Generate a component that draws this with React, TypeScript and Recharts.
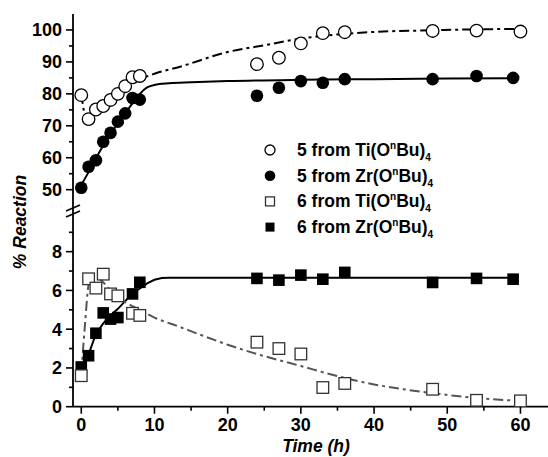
import React from "react";
import { ComposedChart, Line, Scatter, XAxis, YAxis } from "recharts";

// measured points: compound 5 (upper panel)
const tiTopX = [0, 1, 2, 3, 4, 5, 6, 7, 8, 24, 27, 30, 33, 36, 48, 54, 60];
const tiTopY = [79.6, 72.1, 75.1, 76.2, 78.1, 80.0, 82.4, 85.2, 85.6, 89.3, 91.3, 95.8, 99.0, 99.3, 99.7, 99.8, 99.5];
const zrTopX = [0, 1, 2, 3, 4, 5, 6, 7, 8, 24, 27, 30, 33, 36, 48, 54, 59];
const zrTopY = [50.6, 57.2, 59.2, 65.0, 67.8, 71.3, 73.9, 78.7, 78.2, 79.4, 81.9, 84.0, 83.5, 84.6, 84.6, 85.6, 85.0];

// measured points: compound 6 (lower panel)
const tiBotX = [0, 1, 2, 3, 4, 5, 7, 8, 24, 27, 30, 33, 36, 48, 54, 60];
const tiBotY = [1.6, 6.6, 6.12, 6.84, 5.82, 5.72, 4.82, 4.71, 3.33, 3.0, 2.72, 0.99, 1.2, 0.9, 0.33, 0.3];
const zrBotX = [0, 1, 2, 3, 4, 5, 7, 8, 24, 27, 30, 33, 36, 48, 54, 59];
const zrBotY = [2.05, 2.63, 3.79, 4.84, 4.52, 4.6, 5.82, 6.42, 6.62, 6.53, 6.79, 6.58, 6.93, 6.41, 6.62, 6.58];

// fitted curves
const tiTopFitX = [0, 0.7, 1.5, 2, 3, 4, 5, 6, 7, 8, 10, 13.5, 20, 25, 30, 35, 40, 48, 54, 60];
const tiTopFitY = [80, 72.3, 73.8, 75, 76.8, 78.5, 80.2, 81.8, 83.2, 84.5, 86.3, 88.5, 93.1, 95.2, 97.3, 98.6, 99.4, 99.9, 100.2, 100.3];
const zrTopFitX = [0, 1, 2, 3, 4, 5, 6, 7, 8, 9, 10, 12, 15, 20, 30, 40, 50, 59];
const zrTopFitY = [51.5, 55.5, 59.8, 63.8, 67.5, 70.8, 74, 77, 80, 82, 82.8, 83.3, 83.6, 84, 84.4, 84.6, 84.8, 84.9];
const tiBotFitX = [0, 0.5, 1, 1.5, 2.5, 4, 5, 6, 8, 10, 13.3, 16, 20, 24, 27, 30, 33, 36, 40, 44, 48, 54, 60];
const tiBotFitY = [1.7, 4.2, 6.3, 6.75, 6.6, 6.0, 5.65, 5.4, 5.0, 4.6, 4.14, 3.75, 3.2, 2.72, 2.4, 2.1, 1.78, 1.48, 1.15, 0.9, 0.7, 0.45, 0.3];
const zrBotFitX = [0, 1, 2, 3, 4, 5, 6, 7, 8, 9, 10, 11, 12, 20, 30, 40, 50, 59];
const zrBotFitY = [1.95, 2.7, 3.75, 4.3, 4.71, 5.05, 5.45, 5.85, 6.1, 6.36, 6.55, 6.64, 6.66, 6.66, 6.66, 6.66, 6.66, 6.66];

const xTicks = [0, 5, 10, 15, 20, 25, 30, 35, 40, 45, 50, 55, 60];
const topTicks = [50, 55, 60, 65, 70, 75, 80, 85, 90, 95, 100];
const botTicks = [0, 1, 2, 3, 4, 5, 6, 7, 8, 9];

const legendNames = ["5 from Ti(O", "5 from Zr(O", "6 from Ti(O", "6 from Zr(O"];

const pts = (xs: number[], ys: number[]) => xs.map((x, i) => ({ x, y: ys[i] }));

const FONT = '"Liberation Sans", Arial, sans-serif';
// the plot runs past the right edge of the picture (cropped frame)
const CW = 552;
const X_DOMAIN = [-1.13, 64.31];
const W = 548;
const AXW = 73;

const YTick = (props: any) => {
  const { x, y, payload, step } = props;
  const major = payload.value % step === 0;
  return (
    <g>
      <line x1={x} x2={x - (major ? 7 : 4)} y1={y} y2={y} stroke="#000" strokeWidth={1.6} />
      {major && (
        <text x={x - 11} y={y} dy="0.36em" textAnchor="end" fontSize={18} fontWeight="bold" fontFamily={FONT} fill="#000">
          {payload.value}
        </text>
      )}
    </g>
  );
};

const XTick = (props: any) => {
  const { x, y, payload } = props;
  const major = payload.value % 10 === 0;
  return (
    <g>
      <line x1={x} x2={x} y1={y} y2={y + (major ? 7 : 4)} stroke="#000" strokeWidth={1.6} />
      {major && (
        <text x={x} y={y + 24.5} textAnchor="middle" fontSize={18} fontWeight="bold" fontFamily={FONT} fill="#000">
          {payload.value}
        </text>
      )}
    </g>
  );
};

const openCircle = (p: any) => <circle cx={p.cx} cy={p.cy} r={6.3} fill="#fff" stroke="#000" strokeWidth={1.3} />;
const fullCircle = (p: any) => <circle cx={p.cx} cy={p.cy} r={6.3} fill="#000" />;
const openSquare = (p: any) => (
  <rect x={p.cx - 5.8} y={p.cy - 5.8} width={11.6} height={11.6} fill="#fff" stroke="#333" strokeWidth={1.3} />
);
const fullSquare = (p: any) => <rect x={p.cx - 5.8} y={p.cy - 5.8} width={11.6} height={11.6} fill="#000" />;

const DASHDOT = "10 4 3 4";

export default function App() {
  return (
    <div style={{ position: "absolute", left: 0, top: 0, width: W, height: 457, background: "#fff", fontFamily: FONT, overflow: "hidden" }}>
      <div style={{ position: "absolute", left: 0, top: 0 }}>
        <ComposedChart width={CW} height={210} margin={{ top: 14, right: 0, bottom: 0, left: 0 }}>
          <XAxis xAxisId="b" type="number" dataKey="x" domain={X_DOMAIN} allowDataOverflow hide />
          <XAxis
            xAxisId="t"
            orientation="top"
            type="number"
            dataKey="x"
            domain={X_DOMAIN}
            allowDataOverflow
            height={0}
            tick={false}
            tickLine={false}
            axisLine={{ stroke: "#000", strokeWidth: 1.8 }}
          />
          <YAxis
            type="number"
            domain={[43.64, 105]}
            allowDataOverflow
            ticks={topTicks}
            interval={0}
            width={AXW}
            tickSize={0}
            tickMargin={0}
            tickLine={false}
            axisLine={{ stroke: "#000", strokeWidth: 1.8 }}
            tick={(p: any) => <YTick {...p} step={10} />}
          />
          <Scatter xAxisId="b" data={pts(zrTopX, zrTopY)} dataKey="y" shape={fullCircle} isAnimationActive={false} />
          <Scatter xAxisId="b" data={pts(tiTopX, tiTopY)} dataKey="y" shape={openCircle} isAnimationActive={false} />
          <Line xAxisId="b" data={pts(zrTopFitX, zrTopFitY)} dataKey="y" type="monotone" stroke="#000" strokeWidth={2} dot={false} activeDot={false} isAnimationActive={false} />
          <Line xAxisId="b" data={pts(tiTopFitX, tiTopFitY)} dataKey="y" type="monotone" stroke="#000" strokeWidth={2} strokeDasharray={DASHDOT} dot={false} activeDot={false} isAnimationActive={false} />
        </ComposedChart>
      </div>
      <div style={{ position: "absolute", left: 0, top: 210 }}>
        <ComposedChart width={CW} height={247} margin={{ top: 0, right: 0, bottom: 0, left: 0 }}>
          <XAxis
            type="number"
            dataKey="x"
            domain={X_DOMAIN}
            allowDataOverflow
            ticks={xTicks}
            interval={0}
            height={50.3}
            tickSize={0}
            tickMargin={0}
            tickLine={false}
            axisLine={{ stroke: "#000", strokeWidth: 1.8 }}
            tick={(p: any) => <XTick {...p} />}
          />
          <YAxis
            type="number"
            domain={[0, 10.15]}
            allowDataOverflow
            ticks={botTicks}
            interval={0}
            width={AXW}
            tickSize={0}
            tickMargin={0}
            tickLine={false}
            axisLine={{ stroke: "#000", strokeWidth: 1.8 }}
            tick={(p: any) => <YTick {...p} step={2} />}
          />
          <Scatter data={pts(zrBotX, zrBotY)} dataKey="y" shape={fullSquare} isAnimationActive={false} />
          <Scatter data={pts(tiBotX, tiBotY)} dataKey="y" shape={openSquare} isAnimationActive={false} />
          <Line data={pts(zrBotFitX, zrBotFitY)} dataKey="y" type="linear" stroke="#000" strokeWidth={2} dot={false} activeDot={false} isAnimationActive={false} />
          <Line data={pts(tiBotFitX, tiBotFitY)} dataKey="y" type="monotone" stroke="#555" strokeWidth={2} strokeDasharray={DASHDOT} dot={false} activeDot={false} isAnimationActive={false} />
        </ComposedChart>
      </div>
      <svg width={W} height={457} style={{ position: "absolute", left: 0, top: 0, pointerEvents: "none" }}>
        {/* axis break marks */}
        <line x1={66} y1={211} x2={80} y2={205} stroke="#000" strokeWidth={1.6} />
        <line x1={66} y1={217} x2={80} y2={211} stroke="#000" strokeWidth={1.6} />
        {/* axis titles */}
        <text x={316} y={452} textAnchor="middle" fontSize={17.5} fontWeight="bold" fontStyle="italic" fontFamily={FONT}>
          Time (h)
        </text>
        <text
          transform="translate(26,222) rotate(-90)"
          textAnchor="middle"
          fontSize={17.5}
          fontWeight="bold"
          fontStyle="italic"
          fontFamily={FONT}
        >
          % Reaction
        </text>
        {/* legend */}
        {legendNames.map((name, i) => {
          const cy = 150 + i * 25.7;
          const sym =
            i === 0 ? (
              <circle cx={270} cy={cy} r={5} fill="#fff" stroke="#000" strokeWidth={1.3} />
            ) : i === 1 ? (
              <circle cx={270} cy={cy} r={5.3} fill="#000" />
            ) : i === 2 ? (
              <rect x={265.5} y={cy - 4.5} width={9} height={9} fill="#fff" stroke="#333" strokeWidth={1.3} />
            ) : (
              <rect x={265.5} y={cy - 4.5} width={9} height={9} fill="#000" />
            );
          return (
            <g key={name}>
              {sym}
              <text x={297} y={cy + 6} fontSize={17.5} fontWeight="bold" fontFamily={FONT} fill="#000">
                {name}
                <tspan dy={-7} fontSize={10}>n</tspan>
                <tspan dy={7}>Bu)</tspan>
                <tspan dy={5} fontSize={10}>4</tspan>
              </text>
            </g>
          );
        })}
      </svg>
    </div>
  );
}
